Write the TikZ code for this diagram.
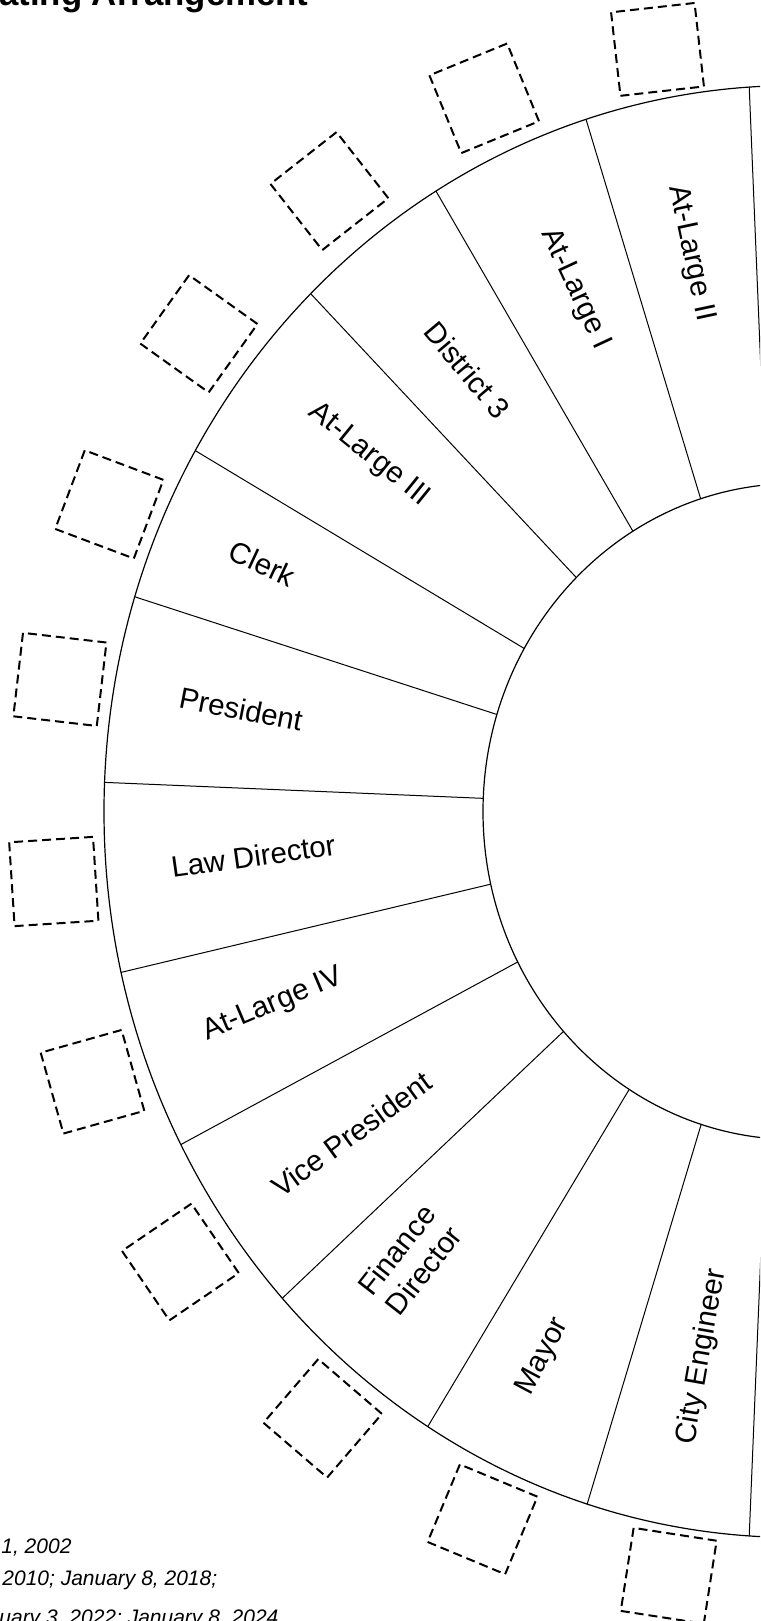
\documentclass[tikz,border=0pt]{standalone}
\usepackage{fontspec}
\setmainfont{Liberation Sans}
\usetikzlibrary{calc}

\begin{document}
\begin{tikzpicture}[x=0.5pt, y=0.5pt,
  every node/.style={inner sep=0pt},
  seat/.style={draw, line width=1pt, dash pattern=on 4.5pt off 2.5pt, minimum size=42pt},
  office/.style={font=\fontsize{14.75}{17}\selectfont, align=center},
  note/.style={font=\itshape\fontsize{10.5}{12}\selectfont, anchor=base west}]
  \useasboundingbox (0,0) rectangle (760,-1621);
  \clip (0,0) rectangle (760,-1621);

  \node[font=\bfseries\fontsize{17.4}{20}\selectfont, anchor=base east] (title) at (309,-6) {Seating Arrangement};

  \coordinate (hub) at (795,-811.5);
  \draw[line width=0.6pt] (hub) ellipse [x radius=691, y radius=726];
  \draw[line width=0.6pt] (hub) ellipse [x radius=312, y radius=328];

  \begin{scope}[line width=0.5pt]
    \draw ($(hub)+(95.4:312 and 328)$) -- ($(hub)+(93.8:691 and 726)$);
    \draw ($(hub)+(107.6:312 and 328)$) -- ($(hub)+(107.6:691 and 726)$);
    \draw ($(hub)+(121.3:312 and 328)$) -- ($(hub)+(121.3:691 and 726)$);
    \draw ($(hub)+(134.5:312 and 328)$) -- ($(hub)+(134.5:691 and 726)$);
    \draw ($(hub)+(150.2:312 and 328)$) -- ($(hub)+(150.2:691 and 726)$);
    \draw ($(hub)+(162.8:312 and 328)$) -- ($(hub)+(162.8:691 and 726)$);
    \draw ($(hub)+(177.7:312 and 328)$) -- ($(hub)+(177.7:691 and 726)$);
    \draw ($(hub)+(192.8:312 and 328)$) -- ($(hub)+(192.8:691 and 726)$);
    \draw ($(hub)+(207.3:312 and 328)$) -- ($(hub)+(207.3:691 and 726)$);
    \draw ($(hub)+(222.1:312 and 328)$) -- ($(hub)+(222.1:691 and 726)$);
    \draw ($(hub)+(237.9:312 and 328)$) -- ($(hub)+(237.9:691 and 726)$);
    \draw ($(hub)+(252.5:312 and 328)$) -- ($(hub)+(252.5:691 and 726)$);
    \draw ($(hub)+(264.6:312 and 328)$) -- ($(hub)+(266.2:691 and 726)$);
  \end{scope}

  \node[office, rotate=-78] (atlargetwo) at (690.7,-253.3) {At-Large II};
  \node[office, rotate=-65] (atlargeone) at (575,-289.5) {At-Large I};
  \node[office, rotate=-50] (district) at (467.4,-370) {District 3};
  \node[office, rotate=-39] (atlargethree) at (369,-455) {At-Large III};
  \node[office, rotate=-25] (clerk) at (262.6,-563.5) {Clerk};
  \node[office, rotate=-11] (president) at (241,-709.3) {President};
  \node[office, rotate=8] (lawdir) at (253.3,-856) {Law Director};
  \node[office, rotate=23] (atlargefour) at (273,-1005) {At-Large IV};
  \node[office, rotate=36] (vicepres) at (351.6,-1134.3) {Vice President};
  \node[office, rotate=52] (finance) at (410,-1260) {Finance\\Director};
  \node[office, rotate=62] (mayor) at (543,-1356.6) {Mayor};
  \node[office, rotate=80] (engineer) at (702,-1356.6) {City Engineer};

  \node[seat, rotate=6.4] (seatatlargetwo) at (657.5,-49.4) {};
  \node[seat, rotate=22.3] (seatatlargeone) at (484.2,-98.3) {};
  \node[seat, rotate=38.1] (seatdistrict) at (329.4,-191.1) {};
  \node[seat, rotate=54.5] (seatatlargethree) at (198.9,-333.8) {};
  \node[seat, rotate=69.4] (seatclerk) at (109.3,-504.4) {};
  \node[seat, rotate=83.4] (seatpresident) at (59.9,-679.4) {};
  \node[seat, rotate=3.7] (seatlawdir) at (53.8,-881.5) {};
  \node[seat, rotate=15.7] (seatatlargefour) at (92.5,-1081.75) {};
  \node[seat, rotate=34.3] (seatvicepres) at (180.4,-1262) {};
  \node[seat, rotate=49.3] (seatfinance) at (322.7,-1418.3) {};
  \node[seat, rotate=67.4] (seatmayor) at (482.5,-1519.3) {};
  \node[seat, rotate=81.2] (seatengineer) at (668.7,-1575.8) {};

  \node[note] (adopted) at (1,-1553.3) {1, 2002};
  \node[note] (amendedone) at (2,-1585.5) {2010; January 8, 2018;};
  \node[note] (amendedtwo) at (-1,-1624) {uary 3, 2022; January 8, 2024};
\end{tikzpicture}
\end{document}
